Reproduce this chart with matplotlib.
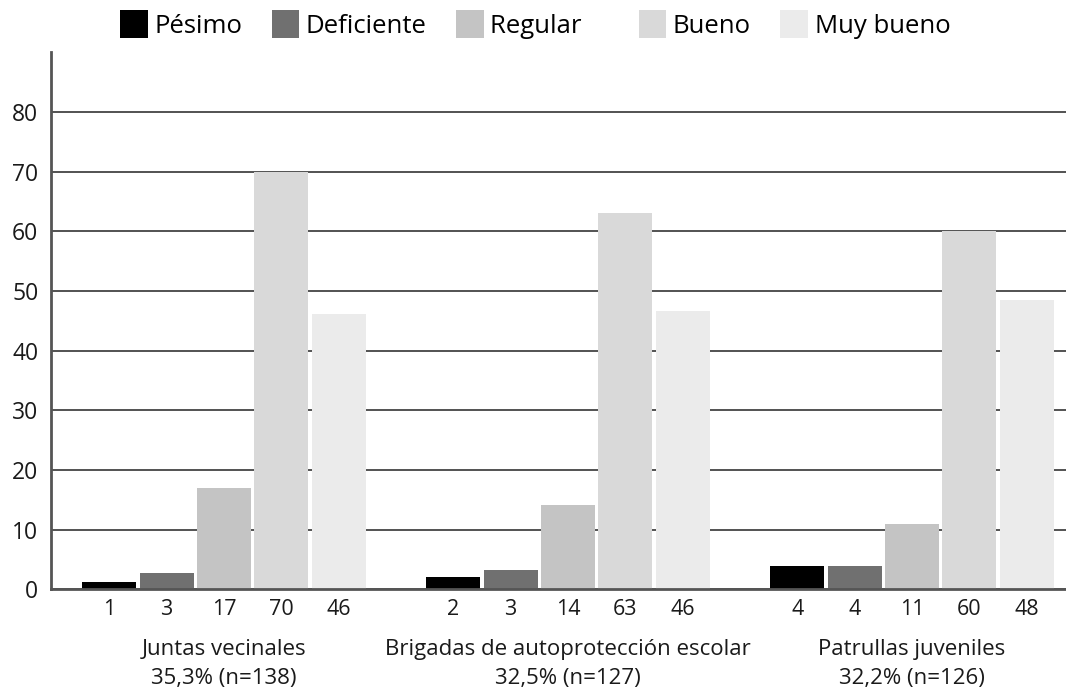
import matplotlib
matplotlib.use("Agg")
import matplotlib.pyplot as plt
import numpy as np
from matplotlib.patches import Patch

plt.rcParams['font.family'] = ['Open Sans', 'DejaVu Sans']

categories = ["Juntas vecinales\n35,3% (n=138)",
              "Brigadas de autoprotección escolar\n32,5% (n=127)",
              "Patrullas juveniles\n32,2% (n=126)"]
series = ["Pésimo", "Deficiente", "Regular", "Bueno", "Muy bueno"]
# bar heights (percent) per series, per category
pesimo = [1.3, 2.1, 4.0]
deficiente = [2.8, 3.3, 4.0]
regular = [17.0, 14.2, 11.0]
bueno = [70.0, 63.0, 60.0]
muy_bueno = [46.2, 46.7, 48.5]
# count labels under each bar
counts = [[1, 2, 4], [3, 3, 4], [17, 14, 11], [70, 63, 60], [46, 46, 48]]
values = [pesimo, deficiente, regular, bueno, muy_bueno]
colors = ["#000000", "#707070", "#c4c4c4", "#d9d9d9", "#ebebeb"]
yticks = [0, 10, 20, 30, 40, 50, 60, 70, 80]

fig = plt.figure(figsize=(10.66, 6.9), dpi=100)
ax = fig.add_axes([0.0478, 0.1457, 0.9522, 0.9243 - 0.1457])

x = np.arange(len(categories))
step = 1 / 6
width = 0.157
tick_pos = []
tick_lab = []
for i, (vals, col) in enumerate(zip(values, colors)):
    pos = x + (i - 2) * step
    ax.bar(pos, vals, width=width, color=col, zorder=2, label=series[i])
    for p, c in zip(pos, counts[i]):
        tick_pos.append(p)
        tick_lab.append(str(c))

ax.set_xlim(-0.503, 2.448)
ax.set_ylim(0, 90)
ax.set_yticks(yticks)
ax.grid(axis='y', color='#444444', linewidth=1.3, zorder=0)
ax.set_axisbelow(True)
for s in ['top', 'right']:
    ax.spines[s].set_visible(False)
for s in ['left', 'bottom']:
    ax.spines[s].set_color('#555555')
    ax.spines[s].set_linewidth(2)
ax.tick_params(axis='y', length=0, pad=9, labelsize=16.5, labelcolor='#1a1a1a')
ax.set_xticks(tick_pos)
ax.set_xticklabels(tick_lab)
ax.tick_params(axis='x', length=0, pad=7, labelsize=15.5, labelcolor='#1a1a1a')

sec = ax.secondary_xaxis('bottom')
sec.set_xticks(x)
sec.set_xticklabels(categories, linespacing=1.45)
sec.tick_params(axis='x', length=0, pad=36, labelsize=16, labelcolor='#1a1a1a')
sec.spines['bottom'].set_visible(False)

handles = [Patch(facecolor=c, edgecolor='none') for c in colors]
leg_labels = [s + ("    " if s == "Regular" else "") for s in series]
fig.legend(handles, leg_labels, loc='upper center', bbox_to_anchor=(0.502, 1.019),
           ncol=5, frameon=False, fontsize=18.5, handlelength=1.08, handleheight=1.3,
           handletextpad=0.25, columnspacing=1.15)

fig.savefig("out.png", dpi=100, facecolor='white')
